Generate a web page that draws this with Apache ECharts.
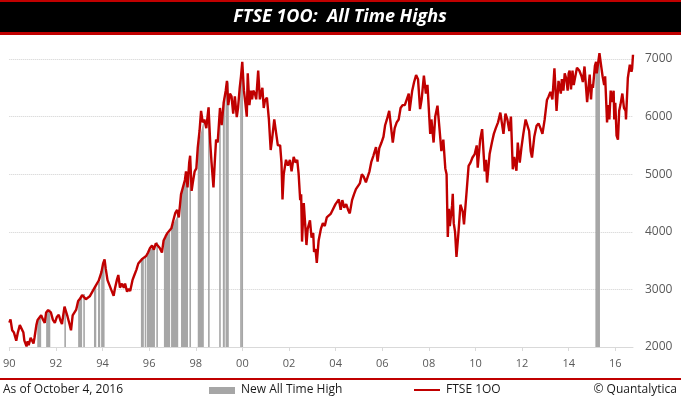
<!DOCTYPE html>
<html>
<head>
<meta charset="utf-8">
<script src="https://cdn.jsdelivr.net/npm/echarts@6/dist/echarts.min.js"></script>
<style>
  html, body { margin: 0; padding: 0; background: #fff; }
  #chart { width: 681px; height: 399px; }
</style>
</head>
<body>
<div id="chart"></div>
<script>
// FTSE 100 level
const ftseDates = [
    '1990-01-02','1990-01-20','1990-02-15','1990-03-15','1990-04-20','1990-05-15','1990-06-15','1990-07-15','1990-08-10','1990-08-25','1990-09-28','1990-10-15','1990-11-01','1990-12-01','1990-12-20',
    '1991-01-15','1991-02-01','1991-03-01','1991-03-20','1991-04-15','1991-05-15','1991-06-15','1991-07-10','1991-08-01','1991-09-01','1991-09-20','1991-10-15','1991-11-15','1991-12-15',
    '1992-01-15','1992-02-15','1992-03-15','1992-04-05','1992-05-15','1992-06-01','1992-07-01','1992-08-01','1992-08-25','1992-09-20','1992-10-10','1992-11-15','1992-12-15',
    '1993-01-15','1993-02-15','1993-03-15','1993-04-15','1993-05-15','1993-06-15','1993-07-15','1993-08-15','1993-09-15','1993-10-01','1993-11-01','1993-11-20','1993-12-15',
    '1994-01-10','1994-02-02','1994-02-20','1994-03-20','1994-04-15','1994-05-15','1994-06-24','1994-07-15','1994-08-15','1994-09-05','1994-10-01','1994-11-01','1994-12-01','1994-12-20',
    '1995-01-20','1995-02-15','1995-03-10','1995-04-15','1995-05-15','1995-06-15','1995-07-15','1995-08-15','1995-09-15','1995-10-15','1995-11-15','1995-12-15',
    '1996-01-15','1996-02-15','1996-03-15','1996-04-15','1996-05-15','1996-06-15','1996-07-20','1996-08-15','1996-09-15','1996-10-15','1996-11-15','1996-12-15',
    '1997-01-15','1997-02-15','1997-03-15','1997-04-10','1997-05-15','1997-06-15','1997-07-15','1997-08-01','1997-08-25','1997-09-20','1997-10-05','1997-10-28','1997-11-15','1997-12-15',
    '1998-01-10','1998-02-01','1998-03-01','1998-03-25','1998-04-20','1998-05-15','1998-06-15','1998-07-20','1998-08-15','1998-09-05','1998-10-05','1998-10-25','1998-11-15','1998-12-10','1998-12-30',
    '1999-01-15','1999-02-10','1999-03-15','1999-04-15','1999-05-04','1999-05-25','1999-06-20','1999-07-15','1999-08-10','1999-09-05','1999-10-05','1999-10-25','1999-11-20','1999-12-10','1999-12-30',
    '2000-01-25','2000-02-15','2000-03-10','2000-03-25','2000-04-20','2000-05-15','2000-06-01','2000-06-20','2000-07-15','2000-08-05','2000-09-05','2000-10-01','2000-10-20','2000-11-10','2000-12-01','2000-12-20',
    '2001-01-20','2001-02-20','2001-03-20','2001-04-10','2001-05-15','2001-06-15','2001-07-10','2001-08-15','2001-09-05','2001-09-21','2001-10-10','2001-11-15','2001-12-15',
    '2002-01-15','2002-02-10','2002-03-15','2002-04-15','2002-05-10','2002-06-01','2002-06-25','2002-07-10','2002-07-24','2002-08-20','2002-09-10','2002-10-01','2002-10-20','2002-11-25','2002-12-20',
    '2003-01-15','2003-01-28','2003-02-20','2003-03-12','2003-04-10','2003-05-15','2003-06-15','2003-07-15','2003-08-15','2003-09-15','2003-10-15','2003-11-15','2003-12-30',
    '2004-01-25','2004-02-20','2004-03-20','2004-04-15','2004-05-15','2004-06-15','2004-07-15','2004-08-10','2004-09-15','2004-10-15','2004-11-15','2004-12-15',
    '2005-01-15','2005-02-15','2005-03-15','2005-04-20','2005-05-10','2005-06-15','2005-07-15','2005-08-15','2005-09-25','2005-10-20','2005-11-15','2005-12-20',
    '2006-01-20','2006-02-15','2006-03-15','2006-04-20','2006-05-10','2006-06-15','2006-07-15','2006-08-15','2006-09-15','2006-10-15','2006-11-15','2006-12-20',
    '2007-01-20','2007-02-20','2007-03-05','2007-04-15','2007-05-15','2007-06-15','2007-07-15','2007-08-16','2007-09-10','2007-10-15','2007-11-15','2007-12-10',
    '2008-01-22','2008-02-10','2008-03-15','2008-04-10','2008-05-15','2008-06-15','2008-07-15','2008-08-15','2008-09-15','2008-10-05','2008-10-24','2008-11-10','2008-11-25','2008-12-30',
    '2009-01-10','2009-01-25','2009-02-15','2009-03-09','2009-04-10','2009-05-10','2009-06-15','2009-07-05','2009-08-15','2009-09-15','2009-10-15','2009-11-15','2009-12-20',
    '2010-01-20','2010-02-05','2010-03-15','2010-04-15','2010-05-25','2010-06-15','2010-07-01','2010-08-10','2010-09-15','2010-10-15','2010-11-15','2010-12-20',
    '2011-01-25','2011-02-15','2011-03-15','2011-04-15','2011-05-15','2011-06-15','2011-07-10','2011-08-08','2011-08-30','2011-10-04','2011-10-25','2011-11-25','2011-12-20',
    '2012-01-20','2012-02-25','2012-03-20','2012-04-20','2012-05-15','2012-06-04','2012-07-10','2012-08-15','2012-09-15','2012-10-15','2012-11-15','2012-12-20',
    '2013-01-25','2013-02-20','2013-03-20','2013-04-20','2013-05-22','2013-06-24','2013-07-25','2013-08-30','2013-09-15','2013-10-10','2013-10-30','2013-11-25','2013-12-15','2013-12-31',
    '2014-01-15','2014-02-05','2014-03-01','2014-03-20','2014-05-10','2014-06-15','2014-07-20','2014-08-10','2014-09-05','2014-10-16','2014-11-25','2014-12-16','2014-12-31',
    '2015-01-15','2015-02-15','2015-03-05','2015-03-15','2015-04-27','2015-05-15','2015-06-15','2015-07-10','2015-07-25','2015-08-24','2015-09-10','2015-09-29','2015-10-20','2015-11-15','2015-12-05','2015-12-15','2015-12-31',
    '2016-01-20','2016-02-11','2016-03-01','2016-03-20','2016-04-20','2016-05-15','2016-06-10','2016-06-16','2016-06-27','2016-07-15','2016-08-15','2016-09-10','2016-09-20','2016-10-04'
];
const ftseValues = [
    2423, 2480, 2290, 2250, 2110, 2250, 2380, 2400, 2250, 2110, 2010, 2100, 2030, 2160, 2170,
    2060, 2170, 2380, 2470, 2500, 2550, 2470, 2420, 2600, 2640, 2660, 2600, 2470, 2420,
    2520, 2560, 2450, 2400, 2700, 2700, 2530, 2400, 2290, 2550, 2520, 2650, 2800,
    2840, 2900, 2920, 2830, 2850, 2880, 2900, 3000, 3060, 3040, 3150, 3120, 3300,
    3450, 3520, 3360, 3160, 3130, 3000, 2890, 3020, 3170, 3250, 3030, 3100, 3030, 3100,
    2960, 3010, 2970, 3160, 3250, 3340, 3450, 3480, 3530, 3520, 3580, 3640,
    3720, 3760, 3690, 3800, 3820, 3720, 3640, 3850, 3920, 3980, 3990, 4060,
    4200, 4330, 4380, 4250, 4650, 4650, 4900, 5050, 4770, 5200, 5320, 4710, 4850, 5050,
    5100, 5460, 5750, 6100, 5900, 5950, 5800, 6160, 5550, 5200, 4770, 5200, 5600, 5550, 5880,
    6150, 5850, 6250, 6450, 6620, 6200, 6400, 6350, 6050, 6350, 5990, 6150, 6500, 6700, 6950,
    6450, 6250, 6000, 6750, 6200, 6450, 6300, 6450, 6400, 6300, 6800, 6300, 6400, 6500, 6150, 6280,
    6330, 5950, 5420, 5600, 5950, 5700, 5500, 5500, 5200, 4560, 5000, 5250, 5150,
    5250, 5050, 5300, 5200, 5250, 5000, 4550, 4650, 3830, 4500, 4150, 3770, 4050, 4200, 3900,
    3980, 3650, 3700, 3460, 3850, 4050, 4150, 4100, 4250, 4250, 4310, 4300, 4480,
    4500, 4560, 4380, 4550, 4420, 4480, 4380, 4320, 4550, 4650, 4740, 4740,
    4840, 5000, 4960, 4860, 4830, 5050, 5220, 5320, 5470, 5220, 5450, 5550,
    5650, 5850, 5950, 6100, 6080, 5550, 5800, 5900, 5950, 6150, 6200, 6200,
    6300, 6400, 6100, 6450, 6600, 6720, 6650, 6130, 6300, 6710, 6400, 6550,
    5700, 5950, 5550, 6000, 6190, 5800, 5400, 5600, 5100, 5000, 3910, 4400, 4100, 4450,
    4660, 4150, 4000, 3565, 4000, 4470, 4350, 4130, 4700, 5144, 5200, 5290, 5350,
    5500, 5115, 5600, 5783, 5050, 5250, 4855, 5350, 5550, 5700, 5800, 5900,
    6070, 6050, 5700, 6050, 5950, 5750, 6000, 5086, 5300, 5060, 5550, 5200, 5450,
    5700, 5950, 5930, 5750, 5400, 5290, 5650, 5840, 5880, 5800, 5700, 5950,
    6290, 6350, 6430, 6300, 6840, 6100, 6620, 6400, 6650, 6450, 6750, 6650, 6450, 6750,
    6800, 6470, 6800, 6550, 6850, 6800, 6700, 6600, 6870, 6250, 6730, 6300, 6560,
    6500, 6880, 6950, 6750, 7100, 6950, 6700, 6550, 6700, 5900, 6200, 5950, 6450, 6250, 6450, 5950, 6240,
    5670, 5600, 6100, 6200, 6400, 6150, 6100, 5950, 5980, 6670, 6900, 6780, 6830, 7074
];

// runs of new all time highs: first day, last day, level at each end
const athStart = ['1991-03-15','1991-08-01','1992-05-25','1992-12-15','1993-03-18','1993-08-20','1993-10-22','1993-12-10',
    '1995-08-25','1995-11-05','1995-11-28','1996-05-05','1996-08-20','1996-12-10','1997-05-15','1997-09-28','1998-02-01',
    '1998-07-25','1999-01-15','1999-03-01','1999-04-12','1999-12-10','1999-12-30','2015-03-07','2015-03-20'];
const athEnd = ['1991-05-15','1991-10-05','1992-05-25','1993-02-15','1993-03-18','1993-09-25','1993-11-25','1994-02-02',
    '1995-10-10','1995-11-05','1996-04-01','1996-05-05','1996-11-25','1997-04-01','1997-09-01','1997-10-14','1998-05-07',
    '1998-07-25','1999-01-15','1999-04-01','1999-06-02','1999-12-10','1999-12-30','2015-03-07','2015-05-05'];
const athFrom = [2470, 2600, 2700, 2800, 2920, 3000, 3100, 3250, 3500, 3580, 3620, 3820, 3860, 4060, 4650, 5200, 5460,
    6160, 6150, 6250, 6450, 6700, 6950, 6950, 6900];
const athTo = [2550, 2660, 2700, 2900, 2920, 3060, 3150, 3520, 3540, 3580, 3780, 3820, 4000, 4300, 5050, 5320, 5950,
    6160, 6150, 6400, 6620, 6700, 6950, 6950, 7100];

const tickYears = [1990, 1992, 1994, 1996, 1998, 2000, 2002, 2004, 2006, 2008, 2010, 2012, 2014, 2016];
const lastDate = '2016-10-04';

// date string -> fractional year, so the x axis can be a plain value axis
function toYear(s) {
    const d = new Date(s + 'T00:00:00Z');
    const y = d.getUTCFullYear();
    const start = Date.UTC(y, 0, 1);
    return y + (d.getTime() - start) / (Date.UTC(y + 1, 0, 1) - start);
}

const FONT = '"Open Sans", "Noto Sans", sans-serif';
const RED = '#c00000';
const GREY = '#a6a6a6';

const chart = echarts.init(document.getElementById('chart'), null, { renderer: 'canvas' });

const lineData = ftseDates.map((d, i) => [toYear(d), ftseValues[i]]);
const athData = athStart.map((d, i) => [toYear(d), toYear(athEnd[i]), athFrom[i], athTo[i]]);

chart.setOption({
    animation: false,
    backgroundColor: '#fff',
    grid: { left: 8, right: 48, top: 59, bottom: 52 },
    xAxis: {
        type: 'value',
        min: 1990,
        max: toYear(lastDate),
        axisLine: { show: true, lineStyle: { color: '#d9d9d9', width: 1 } },
        axisTick: { show: true, customValues: tickYears, length: 4, lineStyle: { color: '#d9d9d9' } },
        axisLabel: {
            customValues: tickYears,
            formatter: v => String(Math.round(v) % 100).padStart(2, '0'),
            color: '#595959',
            fontFamily: FONT,
            fontSize: 11,
            margin: 11
        },
        splitLine: { show: false }
    },
    yAxis: {
        type: 'value',
        position: 'right',
        min: 2000,
        max: 7000,
        interval: 1000,
        axisLine: { show: false },
        axisTick: { show: false },
        axisLabel: { color: '#595959', fontFamily: FONT, fontSize: 12, margin: 12, formatter: v => String(v) },
        splitLine: { lineStyle: { color: '#d0d0d0', type: 'dotted' } }
    },
    series: [
        {
            name: 'New All Time High',
            type: 'custom',
            clip: false,
            z: 2,
            data: athData,
            encode: { x: [0, 1], y: [2, 3] },
            renderItem: (params, api) => {
                const p0 = api.coord([api.value(0), api.value(2)]);
                const p1 = api.coord([api.value(1), api.value(3)]);
                const base = api.coord([api.value(0), 2000])[1];
                let x0 = p0[0], x1 = p1[0];
                if (x1 - x0 < 1.6) {
                    const c = (x0 + x1) / 2;
                    x0 = c - 0.8;
                    x1 = c + 0.8;
                }
                return {
                    type: 'polygon',
                    shape: { points: [[x0, base], [x0, p0[1]], [x1, p1[1]], [x1, base]] },
                    style: { fill: GREY }
                };
            }
        },
        {
            name: 'FTSE 1OO',
            type: 'line',
            clip: false,
            z: 3,
            data: lineData,
            showSymbol: false,
            lineStyle: { color: RED, width: 2.4 }
        }
    ],
    graphic: [
        // title bar
        { type: 'rect', left: 0, top: 0, shape: { width: 681, height: 35 }, style: { fill: RED } },
        { type: 'rect', left: 0, top: 2, shape: { width: 681, height: 30 }, style: { fill: '#000' } },
        {
            type: 'text', x: 340, y: 17,
            style: {
                text: 'FTSE 1OO:  All Time Highs', fill: '#fff',
                font: 'italic bold 18px ' + FONT, align: 'center', verticalAlign: 'middle'
            }
        },
        // footer
        { type: 'rect', left: 0, top: 378, shape: { width: 681, height: 2 }, style: { fill: RED } },
        {
            type: 'text', x: 3, y: 390,
            style: { text: 'As of October 4, 2016', fill: '#1a1a1a', font: '12px ' + FONT, verticalAlign: 'middle' }
        },
        { type: 'rect', left: 209, top: 387, shape: { width: 26, height: 7 }, style: { fill: GREY } },
        {
            type: 'text', x: 241, y: 390,
            style: { text: 'New All Time High', fill: '#1a1a1a', font: '12px ' + FONT, verticalAlign: 'middle' }
        },
        { type: 'rect', left: 414, top: 389, shape: { width: 26, height: 2 }, style: { fill: RED } },
        {
            type: 'text', x: 446, y: 390,
            style: { text: 'FTSE 1OO', fill: '#1a1a1a', font: '12px ' + FONT, verticalAlign: 'middle' }
        },
        {
            type: 'text', x: 677, y: 390,
            style: { text: '© Quantalytica', fill: '#1a1a1a', font: '12px ' + FONT, align: 'right', verticalAlign: 'middle' }
        }
    ]
});
</script>
</body>
</html>
